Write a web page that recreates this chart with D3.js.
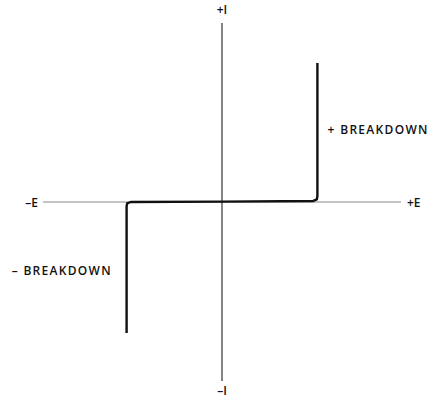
<!DOCTYPE html>
<html><head><meta charset="utf-8">
<script src="https://cdn.jsdelivr.net/npm/d3@7"></script>
<style>body{margin:0;background:#fff}svg{display:block}</style>
</head><body>
<svg id="c" width="438" height="398"></svg>
<script>
// Axis extents (data units)
const eDomain = [-10, 10];
const iDomain = [-10, 10];
// Diode characteristic curve (E, I)
const curveE = [-5.33, -5.33, -5.3, -5.1, 0, 5.1, 5.3, 5.33, 5.33];
const curveI = [-7.32, -0.25, -0.08, 0.0, 0.02, 0.06, 0.15, 0.35, 7.77];
// Labels
const axisLabels = [
  {text: "+I", e: 0, i: 10, pos: "top"},
  {text: "\u2013I", e: 0, i: -10, pos: "bottom"},
  {text: "\u2013E", e: -10, i: 0, pos: "left"},
  {text: "+E", e: 10, i: 0, pos: "right"}
];
const noteLabels = [
  {text: "+ BREAKDOWN", e: 5.9, i: 3.8},
  {text: "\u2013 BREAKDOWN", e: -11.75, i: -4.1}
];

const svg = d3.select("#c");
const x = d3.scaleLinear().domain(eDomain).range([43, 401]);
const y = d3.scaleLinear().domain(iDomain).range([381, 23]);

// horizontal axis
svg.append("line")
  .attr("x1", x(eDomain[0])).attr("x2", x(eDomain[1]))
  .attr("y1", y(0)).attr("y2", y(0))
  .attr("stroke", "#888").attr("stroke-width", 1.2);
// vertical axis
svg.append("line")
  .attr("x1", x(0)).attr("x2", x(0))
  .attr("y1", y(iDomain[1])).attr("y2", y(iDomain[0]))
  .attr("stroke", "#333").attr("stroke-width", 1.2);

const pts = curveE.map((e, k) => [e, curveI[k]]);
svg.append("path")
  .datum(pts)
  .attr("d", d3.line().x(d => x(d[0])).y(d => y(d[1])).curve(d3.curveLinear))
  .attr("fill", "none").attr("stroke", "#111").attr("stroke-width", 2.4)
  .attr("stroke-linejoin", "round");

const font = "'Open Sans', 'Liberation Sans', Arial, sans-serif";
axisLabels.forEach(l => {
  let px = x(l.e), py = y(l.i), anchor = "middle";
  if (l.pos === "top") py -= 9;
  if (l.pos === "bottom") py += 14;
  if (l.pos === "left") { px -= 5; py += 5; anchor = "end"; }
  if (l.pos === "right") { px += 6; py += 5; anchor = "start"; }
  svg.append("text").attr("x", px).attr("y", py).attr("text-anchor", anchor)
    .attr("font-family", font).attr("font-size", 12).attr("font-weight", 600)
    .attr("fill", "#111").text(l.text);
});
noteLabels.forEach(l => {
  svg.append("text").attr("x", x(l.e)).attr("y", y(l.i))
    .attr("font-family", font).attr("font-size", 12).attr("font-weight", 600)
    .attr("letter-spacing", 1.3).attr("fill", "#111").text(l.text);
});
</script>
</body></html>
